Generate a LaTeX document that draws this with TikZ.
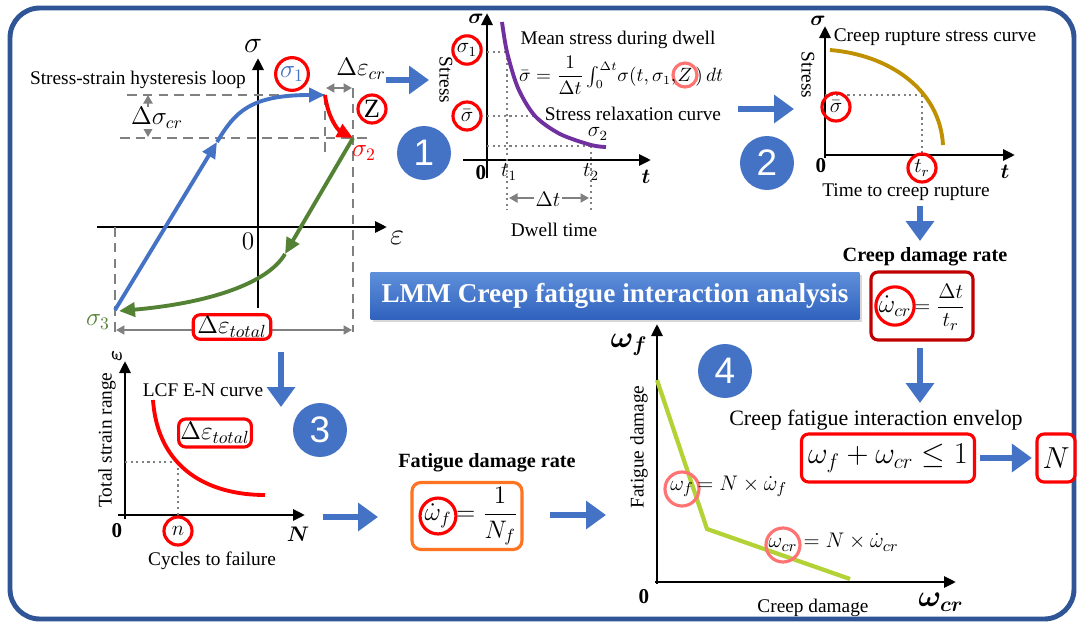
\documentclass[tikz,border=0pt]{standalone}
\usepackage{amsmath}
\usepackage{fontspec}
\setmainfont{Liberation Serif}
\newfontfamily\stepfont{Liberation Sans}
\usetikzlibrary{arrows.meta,positioning,shadows}

\definecolor{frameblue}{HTML}{2F5597}
\definecolor{flowblue}{HTML}{4472C4}
\definecolor{loopgreen}{HTML}{548235}
\definecolor{relaxpurple}{HTML}{7030A0}
\definecolor{rupturegold}{HTML}{BF9000}
\definecolor{envgreen}{HTML}{B2D235}
\definecolor{boxred}{HTML}{C00000}
\definecolor{boxorange}{HTML}{FF7420}
\definecolor{titletop}{HTML}{5E8FDA}
\definecolor{titlebot}{HTML}{2F62BE}

\newcommand{\setfs}[1]{\fontsize{#1}{#1}\selectfont}

\begin{document}
\begin{tikzpicture}[
  x=0.02cm, y=-0.02cm,
  lbl/.style={font=\setfs{11}, inner sep=1pt},
  envlbl/.style={font=\setfs{12.5}, inner sep=1pt},
  hd/.style={font=\bfseries\setfs{11.5}, inner sep=1pt},
  mth/.style={font=\setfs{14}, inner sep=1pt},
  smth/.style={font=\setfs{11.5}, inner sep=1pt},
  bmth/.style={font=\setfs{17}, inner sep=1pt},
  ax/.style={line width=1.7pt, -{Triangle[length=2.4mm,width=2.2mm]}},
  guide/.style={gray, line width=1.2pt, dash pattern=on 5.5pt off 3.5pt},
  dots/.style={gray, line width=1.2pt, dotted},
  dimarr/.style={gray, line width=1.1pt, {Triangle[length=1.7mm,width=1.8mm]}-{Triangle[length=1.7mm,width=1.8mm]}},
  flow/.style={flowblue, line width=3pt, -{Triangle[length=4mm,width=5.5mm]}},
  tip/.style={-{Triangle[length=3.2mm,width=2.8mm]}},
  curve/.style={line width=2.2pt},
  ring/.style={circle, draw=red, line width=1.8pt, inner sep=0pt, minimum size=0.56cm},
  softring/.style={circle, draw=red!55, line width=1.8pt, inner sep=0pt, minimum size=0.68cm},
  redbox/.style={draw=red, line width=1.8pt, rounded corners=4pt, fill=white, inner sep=3pt},
  stepnum/.style={circle, fill=flowblue, text=white, minimum size=1.08cm, inner sep=0pt, font=\stepfont\setfs{21}},
  title/.style={text=white, font=\bfseries\setfs{15.5}, minimum width=9.78cm, minimum height=0.94cm,
    top color=titletop, bottom color=titlebot, drop shadow={opacity=0.3, shadow xshift=1.5pt, shadow yshift=-1.5pt}}
]
\useasboundingbox (0,0) rectangle (1080,626);
\fill[white] (0,0) rectangle (1080,626);
\draw[frameblue, line width=2.8pt, rounded corners=17pt] (10,8) rectangle (1074,619);

% hysteresis loop
\draw[ax] (97,227) -- (387,227);
\draw[ax] (258,308) -- (258,58);
\node[bmth] (sigax) at (253,46) {$\sigma$};
\node[bmth] (epsax) at (397,238) {$\varepsilon$};
\node[mth] (zeroA) at (248,241) {$0$};
\draw[guide] (127,95) -- (325,95);
\draw[guide] (120,138) -- (370,138);
\draw[guide] (325,95) -- (325,156);
\draw[guide] (353,88) -- (353,332);
\draw[guide] (115,227) -- (115,332);
\draw[dimarr] (148,95) -- (148,137);
\draw[dimarr] (326,88) -- (352,88);
\draw[dimarr] (116,330) -- (352,330);
\node[lbl] (loopttl) at (138,80) {Stress-strain hysteresis loop};
\node[mth, fill=white, inner sep=0pt] (dsig) at (157,118) {$\Delta\sigma_{cr}$};
\node[mth] (deps) at (361,69) {$\Delta\varepsilon_{cr}$};
\coordinate (s3) at (115,310);
\coordinate (s1) at (325,95);
\coordinate (s2) at (353,138);
\coordinate (upmid) at (217,142);
\coordinate (downmid) at (285,254);
\draw[flowblue, curve, tip] (s3) -- (upmid);
\draw[flowblue, curve, tip] (upmid) .. controls (235,112) and (250,95) .. (s1);
\draw[red, curve, tip] (s1) .. controls (328,118) and (338,130) .. (s2);
\draw[loopgreen, curve, tip] (s2) -- (downmid);
\draw[loopgreen, curve, tip] (downmid) .. controls (268,283) and (210,303) .. (119,311);
\node[ring, mth, text=flowblue] (sig1) at (292,74) {$\sigma_1$};
\node[ring, font=\setfs{15}] (zring) at (372,109) {Z};
\node[mth, text=red] (sig2) at (364,153) {$\sigma_2$};
\node[mth, text=loopgreen] (sig3) at (98,322) {$\sigma_3$};
\node[redbox, mth, minimum width=1.55cm] (detot) at (232,327) {$\Delta\varepsilon_{total}$};

% stress relaxation during dwell
\node[stepnum] (n1) at (424,153) {1};
\coordinate (loopout) at (386,80);
\coordinate (relaxin) at (429,80);
\draw[flow] (loopout) -- (relaxin);
\draw[ax] (463,160) -- (651,160);
\draw[ax] (487,178) -- (487,13);
\node[font=\setfs{13}, inner sep=1pt] (sigrel) at (476,19) {$\boldsymbol{\sigma}$};
\node[font=\setfs{13}, inner sep=1pt] (trel) at (646,177) {$\boldsymbol{t}$};
\node[font=\bfseries\setfs{12}, inner sep=1pt] (zerorel) at (481,173) {0};
\node[lbl, rotate=-90] (stressrel) at (446,80) {Stress};
\draw[dots] (487,52) -- (507,52);
\draw[dots] (487,116) -- (535,116);
\draw[dots] (487,146) -- (591,146);
\draw[dots] (507,52) -- (507,210);
\draw[dots] (591,146) -- (591,210);
\draw[dimarr] (509,198) -- (589,198);
\node[smth, fill=white] (dt) at (548,199) {$\Delta t$};
\draw[relaxpurple, curve] plot[smooth] coordinates {(502,22) (507,52) (518,88) (535,116) (560,134) (591,145) (606,147)};
\node[ring, smth] (sig1rel) at (467,50) {$\sigma_1$};
\node[ring, smth] (sbarrel) at (467,116) {$\bar{\sigma}$};
\node[smth] (t1) at (509,172) {$t_1$};
\node[smth] (t2) at (591,172) {$t_2$};
\node[smth] (sig2rel) at (598,134) {$\sigma_2$};
\node[lbl] (meanttl) at (618,40) {Mean stress during dwell};
\node[softring, minimum size=0.48cm, font=\setfs{10.5}] (zf) at (685,75) {$Z$};
\node[font=\setfs{10.5}, anchor=base east, inner sep=0pt, xshift=3pt] (meanl) at (zf.west |- zf.base)
  {$\bar{\sigma}=\dfrac{1}{\Delta t}\int_0^{\Delta t}\!\sigma(t,\sigma_1,$};
\node[font=\setfs{10.5}, anchor=base west, inner sep=0pt, xshift=-2pt] (meanr) at (zf.east |- zf.base) {$)\,dt$};
\node[lbl] (relaxttl) at (633,114) {Stress relaxation curve};
\node[lbl] (dwell) at (554,230) {Dwell time};

% creep rupture
\node[stepnum] (n2) at (767,163) {2};
\coordinate (relaxout) at (738,109);
\coordinate (rupin) at (794,109);
\draw[flow] (relaxout) -- (rupin);
\draw[ax] (825,158) -- (825,26);
\draw[ax] (825,155) -- (1015,155);
\node[font=\setfs{13}, inner sep=1pt] (sigrup) at (818,21) {$\boldsymbol{\sigma}$};
\node[font=\setfs{13}, inner sep=1pt] (trup) at (1005,172) {$\boldsymbol{t}$};
\node[font=\bfseries\setfs{12}, inner sep=1pt] (zerorup) at (821,166) {0};
\node[lbl, rotate=-90] (stressrup) at (808,75) {Stress};
\draw[dots] (825,95) -- (922,95);
\draw[dots] (922,95) -- (922,155);
\draw[rupturegold, curve] (830,50) .. controls (890,55) and (940,90) .. (943,145);
\node[ring, smth] (sbarrup) at (836,107) {$\bar{\sigma}$};
\node[ring, smth] (trring) at (922,168) {$t_r$};
\node[lbl] (rupttl) at (935,37) {Creep rupture stress curve};
\node[lbl] (ttr) at (906,192) {Time to creep rupture};
\coordinate (rupout) at (920,206);
\coordinate (cdin) at (920,241);
\draw[flow] (rupout) -- (cdin);

% creep damage rate
\node[hd] (cdrate) at (925,257) {Creep damage rate};
\node[redbox, draw=boxred, minimum width=2.04cm, minimum height=1.36cm] (cdbox) at (922,306) {};
\node[ring, minimum size=0.68cm, font=\setfs{14}] (wcr) at (895,306) {$\dot{\omega}_{cr}$};
\node[font=\setfs{13}, anchor=base west, inner sep=0pt, xshift=-1pt] (cdrhs) at (wcr.east |- wcr.base) {$=\dfrac{\Delta t}{t_r}$};
\coordinate (cdout) at (920,348);
\coordinate (envin) at (920,403);
\draw[flow] (cdout) -- (envin);

\node[title] (lmm) at (615,296) {LMM Creep fatigue interaction analysis};

% interaction envelope
\node[envlbl] (envttl) at (876,420) {Creep fatigue interaction envelop};
\node[redbox, minimum width=3.46cm, minimum height=0.96cm, font=\setfs{17}] (envbox) at (888,458) {$\omega_f+\omega_{cr}\leq 1$};
\node[redbox, minimum width=0.76cm, minimum height=0.96cm, font=\setfs{17}] (nbox) at (1056,458) {$N$};
\draw[flow] ([xshift=2pt]envbox.east) -- ([xshift=-2pt]nbox.west);

% fatigue-creep damage diagram
\node[stepnum] (n4) at (725,371) {4};
\draw[ax] (657,584) -- (657,324);
\draw[ax] (655,582) -- (956,582);
\node[font=\setfs{17}, inner sep=1pt] (wfax) at (629,345) {$\boldsymbol{\omega_f}$};
\node[font=\setfs{17}, inner sep=1pt] (wcrax) at (941,602) {$\boldsymbol{\omega_{cr}}$};
\node[font=\bfseries\setfs{12}, inner sep=1pt] (zerodam) at (644,597) {0};
\node[lbl, rotate=90] (fdam) at (639,447) {Fatigue damage};
\node[lbl] (cdam) at (813,608) {Creep damage};
\draw[envgreen, line width=2.4pt] (657,380) -- (707,529) -- (850,579);
\node[softring, font=\setfs{13}] (wfring) at (682,489) {$\omega_f$};
\node[font=\setfs{13}, anchor=base west, inner sep=0pt, xshift=-2pt] (wfeq) at (wfring.east |- wfring.base) {$=N\times\dot{\omega}_f$};
\node[softring, font=\setfs{13}] (wcrring) at (783,545) {$\omega_{cr}$};
\node[font=\setfs{13}, anchor=base west, inner sep=0pt, xshift=1pt] (wcreq) at (wcrring.east |- wcrring.base) {$=N\times\dot{\omega}_{cr}$};

% strain-life curve
\node[stepnum] (n3) at (320,430) {3};
\coordinate (loopdown) at (281,352);
\coordinate (enin) at (281,407);
\draw[flow] (loopdown) -- (enin);
\draw[ax] (125,519) -- (125,361);
\draw[ax] (118,515) -- (305,515);
\node[font=\setfs{13}, inner sep=1pt, rotate=90] (epsen) at (117,356) {$\boldsymbol{\varepsilon}$};
\node[font=\bfseries\setfs{12}, inner sep=1pt] (zeroen) at (117,531) {0};
\node[font=\setfs{13}, inner sep=1pt] (nen) at (298,534) {$\boldsymbol{N}$};
\node[lbl, rotate=90] (tsr) at (107,440) {Total strain range};
\node[lbl] (lcf) at (203,390) {LCF E-N curve};
\draw[dots] (125,462) -- (178,462);
\draw[dots] (178,462) -- (178,515);
\draw[red, curve] (153,400) .. controls (158,470) and (210,495) .. (265,495);
\node[redbox, mth, minimum width=1.45cm, minimum height=0.56cm] (detot2) at (215,433) {$\Delta\varepsilon_{total}$};
\node[ring, smth] (nring) at (178,531) {$n$};
\node[lbl] (ctf) at (212,561) {Cycles to failure};
\coordinate (enout) at (323,517);
\coordinate (fdin) at (378,517);
\draw[flow] (enout) -- (fdin);

% fatigue damage rate
\node[hd] (fdrate) at (487,463) {Fatigue damage rate};
\node[draw=boxorange, line width=1.8pt, rounded corners=5pt, fill=white, minimum width=2.2cm, minimum height=1.34cm] (fdbox) at (467,516) {};
\node[ring, minimum size=0.62cm, font=\setfs{14}] (wfdot) at (438,516) {$\dot{\omega}_f$};
\node[font=\setfs{14}, anchor=base west, inner sep=0pt, xshift=-1pt] (fdrhs) at (wfdot.east |- wfdot.base) {$=\dfrac{1}{N_f}$};
\coordinate (fdout) at (550,515);
\coordinate (damin) at (606,515);
\draw[flow] (fdout) -- (damin);
\end{tikzpicture}
\end{document}
